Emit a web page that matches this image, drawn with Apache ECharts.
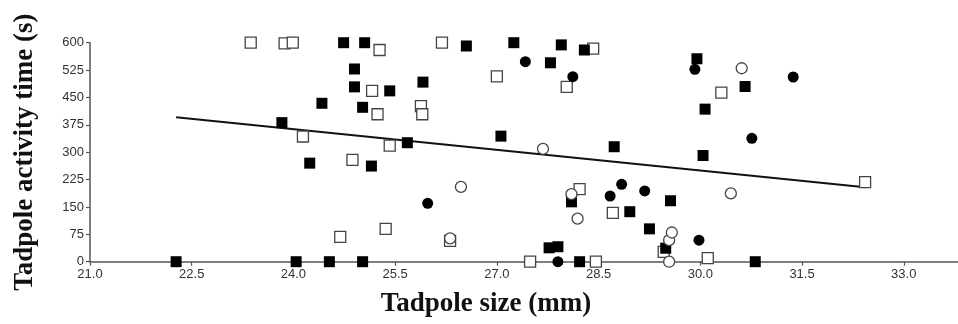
<!DOCTYPE html>
<html>
<head>
<meta charset="utf-8">
<script src="https://cdn.jsdelivr.net/npm/echarts@6/dist/echarts.min.js"></script>
<style>
  html, body { margin: 0; padding: 0; background: #fff; }
  #chart { width: 958px; height: 324px; }
</style>
</head>
<body>
<div id="chart"></div>
<script>
// tadpole size (mm) vs activity time (s)
const filledSquares = [
  [22.27, 0], [24.04, 0], [23.83, 381], [24.24, 270], [24.42, 434], [24.53, 0],
  [24.74, 600], [25.05, 600], [24.90, 528], [24.90, 479], [25.02, 423], [25.02, 0],
  [25.15, 262], [25.42, 468], [25.68, 326], [25.91, 492], [26.55, 591], [27.06, 344],
  [27.25, 600], [27.77, 38], [27.90, 41], [27.79, 545], [27.95, 594], [28.10, 164],
  [28.22, 0], [28.29, 580], [28.73, 315], [28.96, 137], [29.25, 90], [29.49, 37],
  [29.56, 167], [29.95, 556], [30.04, 291], [30.07, 418], [30.66, 480], [30.81, 0]
];
const openSquares = [
  [23.37, 600], [23.87, 598], [23.99, 600], [24.14, 343], [24.69, 68], [24.87, 279],
  [25.16, 468], [25.24, 404], [25.27, 580], [25.36, 90], [25.42, 318], [25.88, 426],
  [25.90, 404], [26.19, 600], [26.31, 57], [27.00, 508], [27.49, 0], [28.03, 479],
  [28.22, 199], [28.42, 584], [28.46, 0], [28.71, 134], [29.46, 27], [30.11, 10],
  [30.31, 463], [32.43, 218]
];
const filledCircles = [
  [25.98, 160], [27.42, 548], [27.90, 0], [28.12, 507], [28.67, 180], [28.84, 212],
  [29.18, 194], [29.92, 527], [29.98, 59], [30.76, 338], [31.37, 506]
];
const openCircles = [
  [26.31, 64], [26.47, 205], [27.68, 309], [28.10, 185], [28.19, 118], [29.54, 0],
  [29.54, 59], [29.58, 80], [30.45, 187], [30.61, 530]
];
// fitted line end points
const fitX = [22.27, 32.43];
const fitY = [396, 204];

const xTicks = { min: 21, max: 33.8, interval: 1.5 };
const yTicks = { min: 0, max: 600, interval: 75 };

const chart = echarts.init(document.getElementById("chart"));

const axisCommon = {
  type: "value",
  splitLine: { show: false },
  axisLine: { show: true, lineStyle: { color: "#555", width: 1.5 } },
  axisTick: { show: true, length: 4, lineStyle: { color: "#555", width: 1.2 } },
  nameTextStyle: {
    fontFamily: "Liberation Serif", fontWeight: "bold", fontSize: 27, color: "#111"
  }
};

const open = { color: "#fff", borderColor: "#444", borderWidth: 1.3, opacity: 1 };
const filled = { color: "#000", opacity: 1 };

chart.setOption({
  animation: false,
  backgroundColor: "#fff",
  grid: { left: 90, right: 0, top: 42.7, bottom: 62.3 },
  xAxis: {
    ...axisCommon,
    min: xTicks.min, max: xTicks.max, interval: xTicks.interval,
    name: "Tadpole size (mm)",
    nameLocation: "middle",
    nameGap: 29,
    nameTextStyle: { ...axisCommon.nameTextStyle, padding: [0, 76, 0, 0] },
    axisLabel: {
      color: "#333", fontSize: 13, fontFamily: "Liberation Sans", margin: 6,
      showMaxLabel: false,
      formatter: (v) => v.toFixed(1)
    }
  },
  yAxis: {
    ...axisCommon,
    min: yTicks.min, max: yTicks.max, interval: yTicks.interval,
    name: "Tadpole activity time (s)",
    nameLocation: "middle",
    nameGap: 51,
    axisLabel: { color: "#333", fontSize: 13, fontFamily: "Liberation Sans", margin: 6 }
  },
  series: [
    {
      type: "line", data: fitX.map((x, i) => [x, fitY[i]]),
      showSymbol: false, lineStyle: { color: "#111", width: 2 }, z: 1
    },
    { type: "scatter", symbol: "rect", symbolSize: 11, data: openSquares, itemStyle: open, z: 2 },
    { type: "scatter", symbol: "rect", symbolSize: 11, data: filledSquares, itemStyle: filled, z: 3 },
    { type: "scatter", symbol: "circle", symbolSize: 11, data: openCircles, itemStyle: open, z: 4 },
    { type: "scatter", symbol: "circle", symbolSize: 11, data: filledCircles, itemStyle: filled, z: 5 }
  ]
});
</script>
</body>
</html>
